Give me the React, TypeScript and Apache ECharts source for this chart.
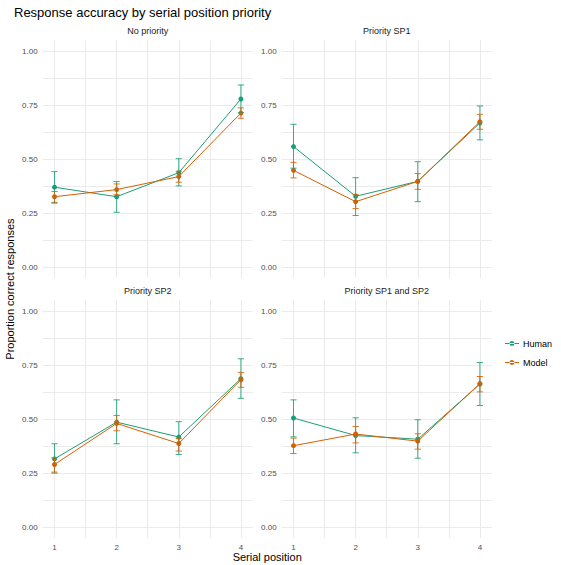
import React, { useEffect, useRef } from "react";
import * as echarts from "echarts";

const positions = [1, 2, 3, 4];
const panels = ["No priority", "Priority SP1", "Priority SP2", "Priority SP1 and SP2"];
const yTicks = [0, 0.25, 0.5, 0.75, 1];
const yMinor = [0.125, 0.375, 0.625, 0.875];
const xMinor = [1.5, 2.5, 3.5];

const humanMean = [
  [0.37, 0.326, 0.437, 0.778],
  [0.558, 0.328, 0.397, 0.667],
  [0.316, 0.486, 0.417, 0.687],
  [0.505, 0.424, 0.407, 0.662],
];
const humanLow = [
  [0.3, 0.254, 0.376, 0.715],
  [0.458, 0.239, 0.303, 0.589],
  [0.25, 0.386, 0.336, 0.596],
  [0.418, 0.344, 0.319, 0.563],
];
const humanHigh = [
  [0.442, 0.396, 0.502, 0.843],
  [0.661, 0.414, 0.488, 0.746],
  [0.386, 0.589, 0.488, 0.779],
  [0.589, 0.506, 0.497, 0.762],
];
const modelMean = [
  [0.326, 0.359, 0.419, 0.713],
  [0.448, 0.303, 0.397, 0.673],
  [0.29, 0.48, 0.387, 0.682],
  [0.377, 0.431, 0.398, 0.664],
];
const modelLow = [
  [0.296, 0.335, 0.393, 0.689],
  [0.413, 0.271, 0.36, 0.638],
  [0.255, 0.446, 0.352, 0.647],
  [0.341, 0.39, 0.361, 0.626],
];
const modelHigh = [
  [0.35, 0.385, 0.444, 0.737],
  [0.485, 0.337, 0.433, 0.707],
  [0.321, 0.517, 0.41, 0.716],
  [0.412, 0.466, 0.432, 0.697],
];

const HUMAN = "#1B9E77";
const MODEL = "#D95F02";
const FONT = "'Liberation Sans', Arial, Helvetica, sans-serif";

const colLeft = [42.7, 281.7];
const rowTop = [40.2, 300.2];
const GW = 210;
const GH = 237.8;

export default function App() {
  const ref = useRef<HTMLDivElement>(null);
  useEffect(() => {
    if (!ref.current) return;
    const chart = echarts.init(ref.current, null, { renderer: "svg" });

    const grids: any[] = [];
    const xAxes: any[] = [];
    const yAxes: any[] = [];
    const series: any[] = [];
    const graphics: any[] = [];

    const errRender = (color: string) => (params: any, api: any) => {
      const x = api.value(0);
      const lo = api.coord([x, api.value(1)]);
      const hi = api.coord([x, api.value(2)]);
      const half = api.size([0.1, 0])[0] / 2;
      const style = { stroke: color, lineWidth: 1, opacity: 0.85 };
      return {
        type: "group",
        children: [
          { type: "line", shape: { x1: lo[0], y1: lo[1], x2: hi[0], y2: hi[1] }, style },
          { type: "line", shape: { x1: hi[0] - half, y1: hi[1], x2: hi[0] + half, y2: hi[1] }, style },
          { type: "line", shape: { x1: lo[0] - half, y1: lo[1], x2: lo[0] + half, y2: lo[1] }, style },
        ],
      };
    };

    panels.forEach((name, i) => {
      const col = i % 2;
      const row = Math.floor(i / 2);
      grids.push({ left: colLeft[col], top: rowTop[row], width: GW, height: GH, containLabel: false });
      xAxes.push({
        type: "value",
        gridIndex: i,
        min: 0.81,
        max: 4.19,
        axisLine: { show: false },
        axisTick: { show: false, customValues: [...positions, ...xMinor] },
        axisLabel: {
          show: row === 1,
          customValues: positions,
          color: "#4D4D4D",
          fontSize: 8,
          fontFamily: FONT,
          margin: 5,
        },
        splitLine: { show: true, lineStyle: { color: "#EBEBEB", width: 1 } },
      });
      yAxes.push({
        type: "value",
        gridIndex: i,
        min: -0.05,
        max: 1.05,
        axisLine: { show: false },
        axisTick: { show: false, customValues: [...yTicks, ...yMinor] },
        axisLabel: {
          show: true,
          customValues: yTicks,
          color: "#4D4D4D",
          fontSize: 8,
          fontFamily: FONT,
          margin: 5,
          formatter: (v: number) => v.toFixed(2),
        },
        splitLine: { show: true, lineStyle: { color: "#EBEBEB", width: 1 } },
      });

      const groups = [
        { n: "Human", c: HUMAN, m: humanMean[i], lo: humanLow[i], hi: humanHigh[i] },
        { n: "Model", c: MODEL, m: modelMean[i], lo: modelLow[i], hi: modelHigh[i] },
      ];
      groups.forEach((g) => {
        series.push({
          type: "line",
          name: g.n,
          xAxisIndex: i,
          yAxisIndex: i,
          data: positions.map((p, k) => [p, g.m[k]]),
          symbol: "circle",
          symbolSize: 5,
          showSymbol: true,
          itemStyle: { color: g.c },
          lineStyle: { color: g.c, width: 1 },
          z: 3,
        });
      });
      groups.forEach((g) => {
        series.push({
          type: "custom",
          name: g.n,
          xAxisIndex: i,
          yAxisIndex: i,
          data: positions.map((p, k) => [p, g.lo[k], g.hi[k]]),
          renderItem: errRender(g.c),
          itemStyle: { color: g.c },
          z: 4,
        });
      });

      graphics.push({
        type: "text",
        x: colLeft[col] + GW / 2,
        y: rowTop[row] - 9,
        style: {
          text: name,
          fill: "#1A1A1A",
          fontSize: 9,
          fontFamily: FONT,
          textAlign: "center",
          textVerticalAlign: "middle",
        },
      });
    });

    graphics.push(
      {
        type: "text",
        x: 14,
        y: 12,
        style: {
          text: "Response accuracy by serial position priority",
          fill: "#000000",
          fontSize: 13,
          fontFamily: FONT,
          textAlign: "left",
          textVerticalAlign: "middle",
        },
      },
      {
        type: "text",
        x: (colLeft[0] + colLeft[1] + GW) / 2,
        y: 557,
        style: {
          text: "Serial position",
          fill: "#000000",
          fontSize: 11,
          fontFamily: FONT,
          textAlign: "center",
          textVerticalAlign: "middle",
        },
      },
      {
        type: "text",
        x: 10,
        y: (rowTop[0] + rowTop[1] + GH) / 2,
        rotation: Math.PI / 2,
        style: {
          text: "Proportion correct responses",
          fill: "#000000",
          fontSize: 11,
          fontFamily: FONT,
          textAlign: "center",
          textVerticalAlign: "middle",
        },
      }
    );

    chart.setOption({
      animation: false,
      backgroundColor: "#FFFFFF",
      grid: grids,
      xAxis: xAxes,
      yAxis: yAxes,
      series,
      graphic: graphics,
      legend: {
        data: ["Human", "Model"],
        orient: "vertical",
        left: 500,
        top: 334,
        itemWidth: 14,
        itemHeight: 8,
        itemGap: 10,
        icon: "path://M0,3.6h14v0.8h-14z M4.5,4a2.5,2.5 0 1,0 5,0a2.5,2.5 0 1,0 -5,0z",
        textStyle: { fontSize: 9, fontFamily: FONT, color: "#000000", padding: [0, 0, 0, -1] },
      },
    });
    return () => chart.dispose();
  }, []);
  return (
    <div
      ref={ref}
      style={{ position: "absolute", left: 0, top: 0, width: 561, height: 565 }}
    />
  );
}
